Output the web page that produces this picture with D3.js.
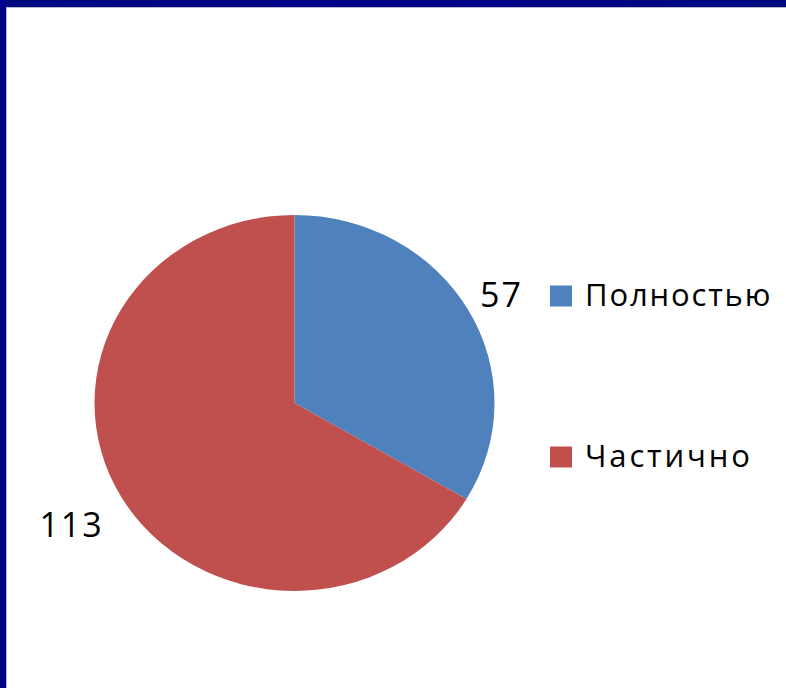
<!DOCTYPE html>
<html>
<head>
<meta charset="utf-8">
<script src="https://cdn.jsdelivr.net/npm/d3@7"></script>
<style>
  html, body { margin: 0; padding: 0; background: #fff; }
  svg { display: block; }
</style>
</head>
<body>
<div id="chart"></div>
<script>
const categories = ["Полностью", "Частично"];
const values = [57, 113];
const colors = ["#4f81bd", "#c0504d"];

const width = 786, height = 688;
const cx = 294.5, cy = 403, radius = 200, squash = 0.94;

const svg = d3.select("#chart").append("svg")
  .attr("width", width)
  .attr("height", height);

// frame
const grad = svg.append("defs").append("linearGradient")
  .attr("id", "frame").attr("x1", 0).attr("x2", 1).attr("y1", 0).attr("y2", 0);
grad.append("stop").attr("offset", "0%").attr("stop-color", "#000a80");
grad.append("stop").attr("offset", "50%").attr("stop-color", "#00008a");
grad.append("stop").attr("offset", "100%").attr("stop-color", "#000a80");
svg.append("rect").attr("x", 0).attr("y", 0).attr("width", width).attr("height", 7).attr("fill", "url(#frame)");
svg.append("rect").attr("x", 0).attr("y", 0).attr("width", 6).attr("height", height).attr("fill", "#00008a");
svg.append("line").attr("x1", 6).attr("x2", width).attr("y1", 7.5).attr("y2", 7.5).attr("stroke", "#b8b8c8");
svg.append("line").attr("x1", 6.5).attr("x2", 6.5).attr("y1", 7).attr("y2", height).attr("stroke", "#b8b8c8");

const data = categories.map((c, i) => ({ category: c, value: values[i], color: colors[i] }));
const pie = d3.pie().value(d => d.value).sort(null);
const arc = d3.arc().innerRadius(0).outerRadius(radius);
const labelArc = d3.arc().innerRadius(245).outerRadius(245);
const arcs = pie(data);

const g = svg.append("g")
  .attr("transform", `translate(${cx},${cy}) scale(1,${squash})`);
g.selectAll("path")
  .data(arcs)
  .enter()
  .append("path")
  .attr("d", arc)
  .attr("fill", d => d.data.color);

const font = "'Open Sans', 'DejaVu Sans', sans-serif";

svg.selectAll("text.val")
  .data(arcs)
  .enter()
  .append("text")
  .attr("class", "val")
  .attr("x", d => cx + labelArc.centroid(d)[0] - (d.index === 0 ? 6 : 10))
  .attr("y", d => cy + labelArc.centroid(d)[1] * squash + (d.index === 0 ? 5 : 7))
  .attr("text-anchor", "middle")
  .attr("dominant-baseline", "central")
  .style("font-family", font)
  .style("font-size", "34px")
  .style("letter-spacing", "2px")
  .attr("fill", "#000")
  .text(d => d.data.value);

const legend = svg.selectAll("g.legend")
  .data(data)
  .enter()
  .append("g")
  .attr("class", "legend")
  .attr("transform", (d, i) => `translate(550,${296 + i * 161})`);
legend.append("rect")
  .attr("x", 0).attr("y", -10.5)
  .attr("width", 22).attr("height", 21)
  .attr("fill", d => d.color);
legend.append("text")
  .attr("x", 35)
  .attr("y", 10)
  .style("font-family", font)
  .style("font-size", "31px")
  .attr("fill", "#000")
  .text(d => d.category)
  .each(function () {
    // spread letters like the original's wide tracking: ~20.5px per glyph
    const t = d3.select(this);
    const n = t.text().length;
    t.attr("textLength", n * 20.6).attr("lengthAdjust", "spacing");
  });
</script>
</body>
</html>
